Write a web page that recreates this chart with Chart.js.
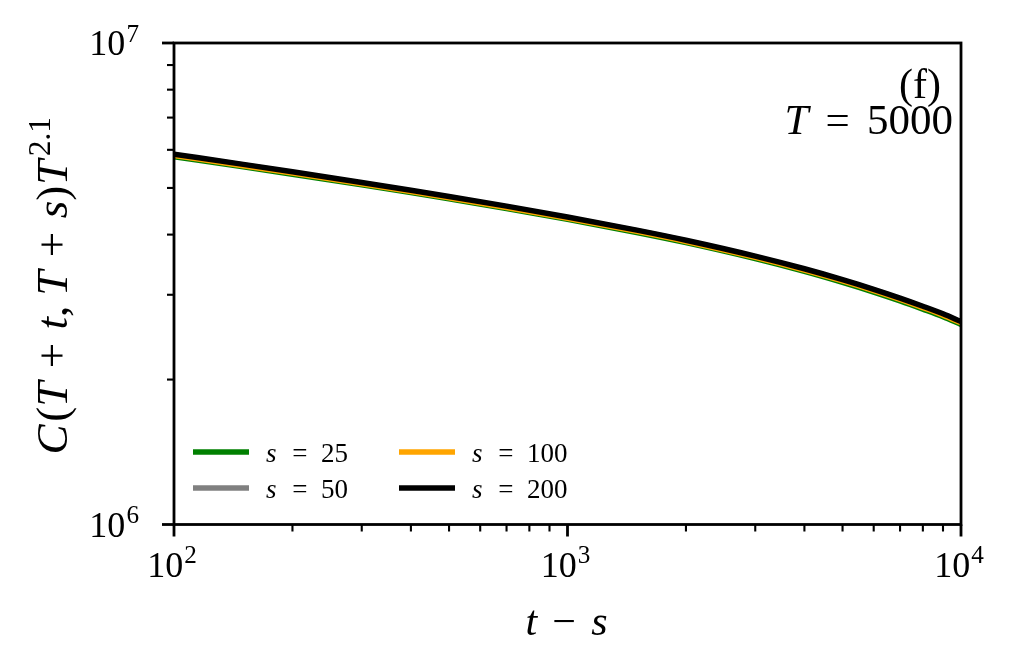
<!DOCTYPE html>
<html>
<head>
<meta charset="utf-8">
<script src="https://cdn.jsdelivr.net/npm/chart.js@4.4.0/dist/chart.umd.min.js"></script>
<style>
    html, body { margin: 0; padding: 0; background: #fff; }
    #wrap { width: 1017px; height: 668px; }
</style>
</head>
<body>
<div id="wrap"><canvas id="chartCanvas" width="1017" height="668"></canvas></div>
<script>
// t - s values (x axis)
const tValues = [100, 150, 200, 300, 400, 500, 700, 1000, 1500, 2000, 3000, 4000, 5000, 6000, 7000, 8000, 9000, 10000];

// C(T+t,T+s) T^2.1 for each s
const s25  = [5.808e6, 5.533e6, 5.340e6, 5.074e6, 4.889e6, 4.745e6, 4.531e6, 4.302e6, 4.040e6, 3.849e6, 3.566e6, 3.355e6, 3.183e6, 3.039e6, 2.913e6, 2.801e6, 2.702e6, 2.604e6];
const s50  = [5.855e6, 5.578e6, 5.384e6, 5.116e6, 4.928e6, 4.784e6, 4.567e6, 4.337e6, 4.073e6, 3.881e6, 3.597e6, 3.385e6, 3.214e6, 3.070e6, 2.943e6, 2.830e6, 2.730e6, 2.631e6];
const s100 = [5.839e6, 5.562e6, 5.369e6, 5.101e6, 4.914e6, 4.770e6, 4.555e6, 4.325e6, 4.062e6, 3.870e6, 3.587e6, 3.376e6, 3.205e6, 3.061e6, 2.935e6, 2.822e6, 2.722e6, 2.624e6];
const s200 = [5.875e6, 5.597e6, 5.402e6, 5.133e6, 4.945e6, 4.800e6, 4.583e6, 4.352e6, 4.087e6, 3.894e6, 3.609e6, 3.397e6, 3.225e6, 3.080e6, 2.953e6, 2.840e6, 2.739e6, 2.640e6];

const seriesNames = ['25', '50', '100', '200'];
const seriesColors = ['#008000', '#808080', '#ffa500', '#000000'];

// tick positions and labels
const xTickValues = [100, 200, 300, 400, 500, 600, 700, 800, 900, 1000, 2000, 3000, 4000, 5000, 6000, 7000, 8000, 9000, 10000];
const xMajorTicks = [100, 1000, 10000];
const xMajorExp = ['2', '3', '4'];
const yTickValues = [1e6, 2e6, 3e6, 4e6, 5e6, 6e6, 7e6, 8e6, 9e6, 1e7];
const yMajorTicks = [1e6, 1e7];
const yMajorExp = ['6', '7'];

const SERIF = '"Liberation Serif", "DejaVu Serif", serif';

function runFont(r, size) {
    return (r.it ? 'italic ' : '') + (r.sup ? size * 0.7 : size) + 'px ' + SERIF;
}

// draws a row of text pieces (italic / superscript) like a small math label
function drawRuns(ctx, runs, x, y, size, align) {
    let total = 0;
    const widths = runs.map(r => {
        ctx.font = runFont(r, size);
        const w = (r.gap || 0) * size + ctx.measureText(r.t).width;
        total += w;
        return w;
    });
    let cx = align === 'right' ? x - total : align === 'center' ? x - total / 2 : x;
    ctx.textAlign = 'left';
    ctx.textBaseline = 'alphabetic';
    runs.forEach((r, i) => {
        ctx.font = runFont(r, size);
        ctx.fillText(r.t, cx + (r.gap || 0) * size, r.sup ? y - size * 0.37 : y);
        cx += widths[i];
    });
}

const axesPlugin = {
    id: 'axesPlugin',
    afterDatasetsDraw(chart) {
        const { ctx, chartArea: a, scales: { x, y } } = chart;
        ctx.save();
        ctx.strokeStyle = '#000';
        ctx.fillStyle = '#000';

        // ticks, outside
        xTickValues.forEach(v => {
            const px = x.getPixelForValue(v);
            const major = xMajorTicks.includes(v);
            ctx.lineWidth = major ? 2.8 : 2.1;
            ctx.beginPath();
            ctx.moveTo(px, a.bottom);
            ctx.lineTo(px, a.bottom + (major ? 12 : 7));
            ctx.stroke();
        });
        yTickValues.forEach(v => {
            const py = y.getPixelForValue(v);
            const major = yMajorTicks.includes(v);
            ctx.lineWidth = major ? 2.8 : 2.1;
            ctx.beginPath();
            ctx.moveTo(a.left, py);
            ctx.lineTo(a.left - (major ? 12 : 7), py);
            ctx.stroke();
        });

        ctx.lineWidth = 2.8;
        ctx.strokeRect(a.left, a.top, a.right - a.left, a.bottom - a.top);

        // tick labels
        xMajorTicks.forEach((v, i) => {
            drawRuns(ctx, [{ t: '10' }, { t: xMajorExp[i], sup: true, gap: 0.03 }],
                x.getPixelForValue(v) - 2, a.bottom + 52, 36, 'center');
        });
        yMajorTicks.forEach((v, i) => {
            drawRuns(ctx, [{ t: '10' }, { t: yMajorExp[i], sup: true, gap: 0.03 }],
                a.left - 35, y.getPixelForValue(v) + 12, 36, 'right');
        });

        // axis titles
        drawRuns(ctx, [{ t: 't', it: true }, { t: '\u2212', gap: 0.36 }, { t: 's', it: true, gap: 0.36 }],
            (a.left + a.right) / 2 - 1, 635, 42, 'center');

        ctx.save();
        ctx.translate(67, (a.top + a.bottom) / 2 + 2);
        ctx.rotate(-Math.PI / 2);
        drawRuns(ctx, [
            { t: 'C', it: true }, { t: '(', gap: 0.06 }, { t: 'T', it: true },
            { t: '+', gap: 0.3 }, { t: 't', it: true, gap: 0.3 }, { t: ',' },
            { t: 'T', it: true, gap: 0.22 }, { t: '+', gap: 0.3 }, { t: 's', it: true, gap: 0.3 },
            { t: ')' }, { t: 'T', it: true, gap: 0.02 }, { t: '2.1', sup: true, gap: 0.08 }
        ], 0, 0, 45, 'center');
        ctx.restore();

        // panel annotation
        drawRuns(ctx, [{ t: '(f)' }], a.right - 20, 98, 42, 'right');
        drawRuns(ctx, [{ t: 'T', it: true }, { t: '=', gap: 0.4 }, { t: '5000', gap: 0.4 }],
            a.right - 8, 134, 43, 'right');

        // legend, two columns inside the lower left corner
        const cols = [[193, 266], [399, 472]];
        const rows = [452, 488];
        chart.data.datasets.forEach((ds, i) => {
            const col = cols[Math.floor(i / 2)];
            const ry = rows[i % 2];
            ctx.strokeStyle = ds.borderColor;
            ctx.lineWidth = 5.5;
            ctx.beginPath();
            ctx.moveTo(col[0], ry);
            ctx.lineTo(col[0] + 56, ry);
            ctx.stroke();
            drawRuns(ctx, [{ t: 's', it: true }, { t: '=', gap: 0.58 }, { t: seriesNames[i], gap: 0.5 }],
                col[1], ry + 10, 27, 'left');
        });

        ctx.restore();
    }
};

const seriesData = [s25, s50, s100, s200];

const datasets = seriesData.map((vals, i) => ({
    label: 's = ' + seriesNames[i],
    data: tValues.map((t, k) => ({ x: t, y: vals[k] })),
    borderColor: seriesColors[i],
    backgroundColor: seriesColors[i],
    borderWidth: 5.5,
    pointRadius: 0,
    fill: false,
    cubicInterpolationMode: 'monotone',
    order: seriesData.length - i
}));

new Chart(document.getElementById('chartCanvas').getContext('2d'), {
    type: 'line',
    data: { datasets },
    options: {
        responsive: false,
        animation: false,
        devicePixelRatio: 1,
        layout: { padding: { top: 43, right: 56, bottom: 0, left: 0 } },
        plugins: {
            legend: { display: false },
            tooltip: { enabled: false }
        },
        scales: {
            x: {
                type: 'logarithmic',
                min: 100,
                max: 10000,
                ticks: { display: false },
                grid: { display: false },
                border: { display: false },
                afterFit: s => { s.height = 143.5; }
            },
            y: {
                type: 'logarithmic',
                min: 1e6,
                max: 1e7,
                ticks: { display: false },
                grid: { display: false },
                border: { display: false },
                afterFit: s => { s.width = 174; }
            }
        }
    },
    plugins: [axesPlugin]
});
</script>
</body>
</html>
